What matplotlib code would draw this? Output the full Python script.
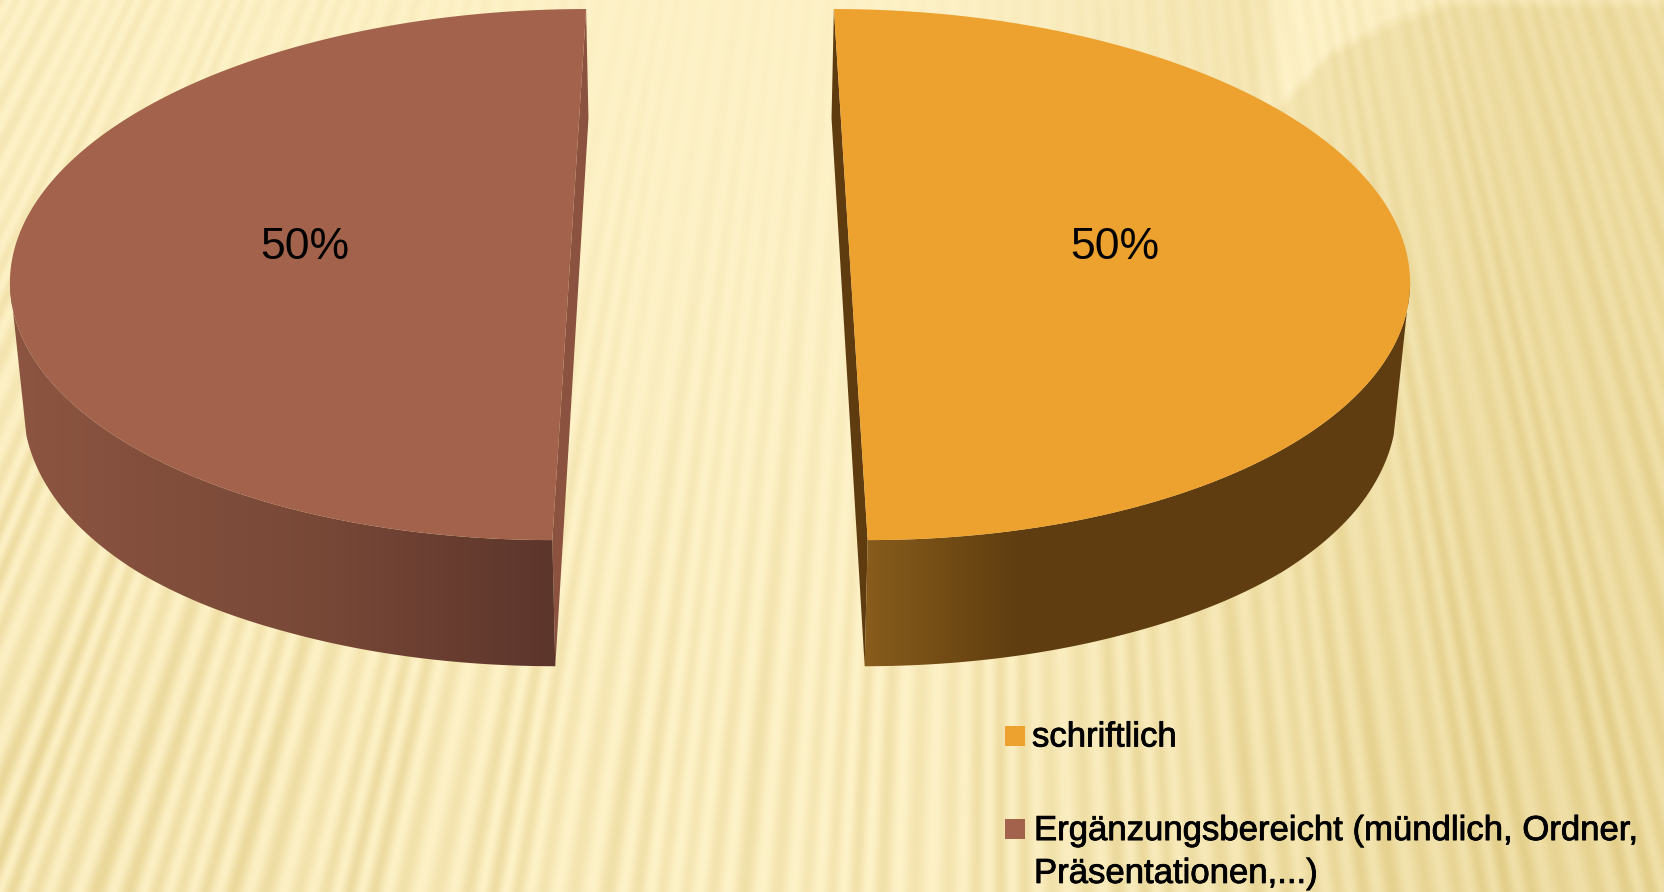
import numpy as np
import matplotlib
matplotlib.use("Agg")
import matplotlib.pyplot as plt
import matplotlib.patheffects as pe
from matplotlib.patches import Polygon, Rectangle

categories = ["schriftlich", "Ergänzungsbereicht (mündlich, Ordner,\nPräsentationen,...)"]
values = [50, 50]
pct_labels = ["50%", "50%"]

top_colors = ["#EDA12E", "#A2624B"]
wall_colors = ["#5F3C10", "#8B533F"]

W, H = 1665, 892

# projection of the tilted pie
CX = 710
Y0 = 242.7
SX = 555
SY = 261.7
PERSP = 0.12
EXPLODE = 0.25
RIM_SHRINK = 0.981
DEPTH = 111
LABEL_R = 0.48
LABEL_DY = 5
# the bottom rim sits a little lower than the projection says, except at the very front
RIM_SIN = [-1, -0.9, -0.8, -0.7, -0.5, -0.25]
RIM_EXTRA = [0, 2, 5, 7.5, 9.5, 10]
RIM_END = -0.25


def project(x, y):
    w = 1 + PERSP * y
    return CX + x * SX / w, Y0 - y * SY / w


def lower_rim(x, y, s):
    px, py = project(x, y)
    w = 1 + PERSP * y
    return CX + (px - CX) * RIM_SHRINK, py + DEPTH / w + np.interp(s, RIM_SIN, RIM_EXTRA)


def make_background():
    yy, xx = np.mgrid[0:H, 0:W]
    u = (xx - 1000) / (yy + 1800)
    u_warp = u + 0.0018 * np.sin(2 * np.pi * u / 0.061)
    stripes = (1 + np.cos(2 * np.pi * u_warp / 0.0105)) / 2
    stripes = stripes * (0.82 + 0.18 * np.cos(2 * np.pi * u / 0.0473))
    # light envelope
    base = 0.5 * np.clip((xx - 900) / 600, 0, 1) + 0.1 * (yy / H) * np.clip((650 - xx) / 650, 0, 1)
    # lighter corner band at top right
    edge = np.interp(xx, [1265, 1330, 1390, 1450], [130, 60, 30, 10])
    band = np.clip((edge - yy) / 15, 0, 1) * np.clip((xx - 1250) / 40, 0, 1)
    base = base - 0.35 * band
    # stripe strength
    amp = 0.08 + 0.4 * np.clip(yy / 760, 0, 1) ** 1.5 + 0.2 * np.clip((650 - xx) / 650, 0, 1)
    amp = amp + 0.15 * np.clip((xx - 1000) / 500, 0, 1)
    amp = amp * (1 - 0.3 * np.clip((xx - 1000) / 500, 0, 1) * yy / H)
    t = np.clip(base + amp * stripes, 0, 1)[..., None]
    light = np.array([254, 242, 200]) / 255
    dark = np.array([226, 205, 135]) / 255
    return light + (dark - light) * t


def side_gradient(colors_x, colors_rgb):
    xs = np.arange(W)
    grad = np.stack([np.interp(xs, colors_x, [c[i] for c in colors_rgb]) for i in range(3)], axis=-1)
    return grad[None, :, :] / 255


fig = plt.figure(figsize=(W / 100, H / 100), dpi=100)
ax = fig.add_axes([0, 0, 1, 1])
ax.imshow(make_background(), extent=(0, W, H, 0), aspect="auto", zorder=0)

gradients = [
    side_gradient([868, 955, 1020], [(135, 92, 28), (112, 74, 20), (95, 61, 16)]),
    side_gradient([10, 320, 555], [(140, 85, 65), (120, 72, 55), (92, 53, 43)]),
]

start = 90.0
total = sum(values)
for i, v in enumerate(values):
    span = 360.0 * v / total
    mid = np.radians(start - span / 2)
    theta = np.radians(np.linspace(start, start - span, 500))
    x = EXPLODE * np.cos(mid) + np.cos(theta)
    y = EXPLODE * np.sin(mid) + np.sin(theta)
    s = np.sin(theta)

    upper = np.column_stack(project(x, y))
    lower = np.column_stack(lower_rim(x, y, s))

    # seam wall that shows in the gap
    wall = np.array([upper[0], lower[0], lower[-1], upper[-1]])
    ax.add_patch(Polygon(wall, closed=True, fc=wall_colors[i], ec="none", zorder=2))

    # front side, from the bottom of the seam out to the widest point
    i_ext = np.argmax(np.abs(upper[:, 0] - CX))
    i_bot = np.argmin(y)
    a, b = sorted([i_ext, i_bot])
    keep = np.arange(a, b + 1)
    low_part = lower[keep[s[keep] <= RIM_END]]
    outline = np.vstack([upper[a:b + 1], low_part[::-1]])
    side = Polygon(outline, closed=True, fc="none", ec="none", zorder=3)
    ax.add_patch(side)
    im = ax.imshow(gradients[i], extent=(0, W, H, 0), aspect="auto", zorder=3)
    im.set_clip_path(side)

    ax.add_patch(Polygon(upper, closed=True, fc=top_colors[i], ec="none", zorder=4))

    lx, ly = project(EXPLODE * np.cos(mid) + LABEL_R * np.cos(mid), EXPLODE * np.sin(mid) + LABEL_R * np.sin(mid))
    ax.text(lx, ly + LABEL_DY, pct_labels[i], ha="center", va="center", fontsize=32,
            family="Liberation Sans", color="black", zorder=5)

    start -= span

# legend
swatch_y = [736, 829]
legend_y = [737, 852]
legend_text_x = [1032, 1034]
for i, cat in enumerate(categories):
    ax.add_patch(Rectangle((1005, swatch_y[i] - 10), 20, 20, fc=top_colors[i], ec="none", zorder=5))
    ax.text(legend_text_x[i], legend_y[i], cat, ha="left", va="center", fontsize=25,
            family="Liberation Sans", color="black", linespacing=1.38, zorder=5,
            path_effects=[pe.withStroke(linewidth=0.6, foreground="black")])

ax.set_xlim(0, W)
ax.set_ylim(H, 0)
ax.axis("off")
fig.savefig("out.png", dpi=100)
